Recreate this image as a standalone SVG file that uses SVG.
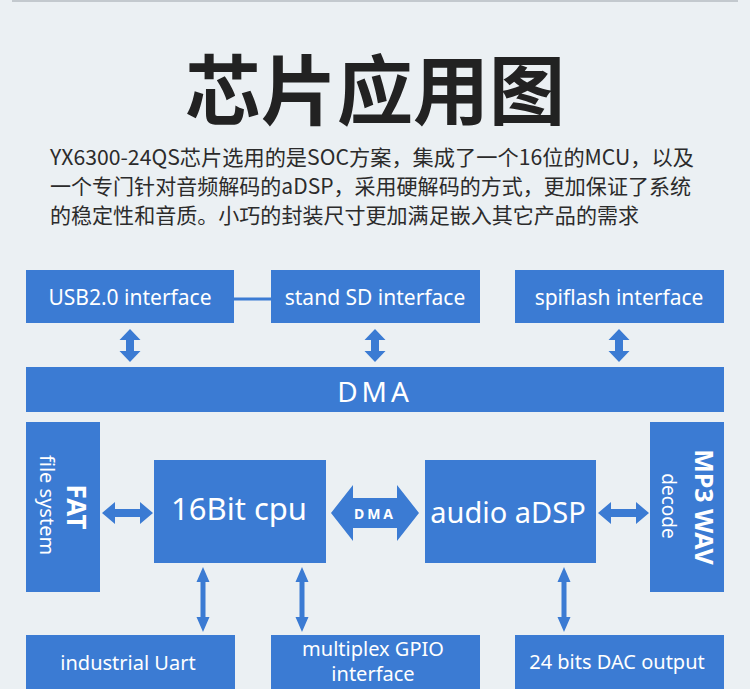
<svg xmlns="http://www.w3.org/2000/svg" width="750" height="689" viewBox="0 0 750 689">
<style>
.box{fill:#3b7bd3}
.lbl{font-family:"Noto Sans","Noto Sans CJK SC",sans-serif;fill:#fff;text-anchor:middle}
.para{font-family:"Noto Sans CJK SC",sans-serif;font-size:21px;fill:#2b2b2b}
.arr{fill:#3b7bd3}
</style>
<rect width="750" height="689" fill="#ebf0f3"/>
<rect x="12" y="0" width="726" height="2" fill="#c3c9ce"/>
<g id="title">
<text x="375" y="119" font-family="'Noto Sans CJK SC',sans-serif" font-size="76" font-weight="700" fill="#222" text-anchor="middle">芯片应用图</text>
</g>
<g id="description">
<text class="para" x="50" y="165" textLength="644" lengthAdjust="spacingAndGlyphs">YX6300-24QS芯片选用的是SOC方案，集成了一个16位的MCU，以及</text>
<text class="para" x="50" y="194" textLength="641" lengthAdjust="spacingAndGlyphs">一个专门针对音频解码的aDSP，采用硬解码的方式，更加保证了系统</text>
<text class="para" x="50" y="223" textLength="589" lengthAdjust="spacingAndGlyphs">的稳定性和音质。小巧的封装尺寸更加满足嵌入其它产品的需求</text>
</g>
<g id="connectors">
<line x1="234" y1="299" x2="271" y2="299" stroke="#3b7bd3" stroke-width="3"/>
<polygon class="arr" points="130,329 140.5,340 134,340 134,351 140.5,351 130,362 119.5,351 126,351 126,340 119.5,340"/>
<polygon class="arr" points="375,329 385.5,340 379,340 379,351 385.5,351 375,362 364.5,351 371,351 371,340 364.5,340"/>
<polygon class="arr" points="619,329 629.5,340 623,340 623,351 629.5,351 619,362 608.5,351 615,351 615,340 608.5,340"/>
<polygon class="arr" points="102,513 115,502 115,509 140,509 140,502 153,513 140,524 140,517 115,517 115,524"/>
<polygon class="arr" points="598,513 611,502 611,509 636,509 636,502 649,513 636,524 636,517 611,517 611,524"/>
<polygon class="arr" points="331,513 353,485 353,498 397,498 397,485 419,513 397,541 397,528 353,528 353,541"/>
<text x="375" y="519" font-family="'Noto Sans',sans-serif" font-size="14" font-weight="700" fill="#fff" text-anchor="middle" letter-spacing="3">DMA</text>
<polygon class="arr" points="203,567 209.5,582 205.5,582 205.5,617 209.5,617 203,632 196.5,617 200.5,617 200.5,582 196.5,582"/>
<polygon class="arr" points="302,567 308.5,582 304.5,582 304.5,617 308.5,617 302,632 295.5,617 299.5,617 299.5,582 295.5,582"/>
<polygon class="arr" points="564,567 570.5,582 566.5,582 566.5,617 570.5,617 564,632 557.5,617 561.5,617 561.5,582 557.5,582"/>
</g>
<g id="usb">
<rect class="box" x="26" y="270" width="208" height="53"/>
<text class="lbl" x="130" y="305" font-size="21">USB2.0 interface</text>
</g>
<g id="sd">
<rect class="box" x="271" y="270" width="209" height="53"/>
<text class="lbl" x="375" y="305" font-size="21">stand SD interface</text>
</g>
<g id="spiflash">
<rect class="box" x="515" y="270" width="209" height="53"/>
<text class="lbl" x="619" y="305" font-size="21">spiflash interface</text>
</g>
<g id="dma">
<rect class="box" x="26" y="367" width="698" height="45"/>
<text class="lbl" x="375" y="402" font-size="28" letter-spacing="4">DMA</text>
</g>
<g id="fat">
<rect class="box" x="26" y="422" width="74" height="170"/>
<text class="lbl" font-size="26" font-weight="700" transform="translate(67,507) rotate(90)">FAT</text>
<text class="lbl" font-size="20" transform="translate(40,505) rotate(90)">file system</text>
</g>
<g id="cpu">
<rect class="box" x="154" y="460" width="172" height="103"/>
<text class="lbl" x="239" y="520" font-size="31">16Bit cpu</text>
</g>
<g id="adsp">
<rect class="box" x="425" y="460" width="171" height="103"/>
<text class="lbl" x="508" y="523" font-size="29">audio aDSP</text>
</g>
<g id="mp3">
<rect class="box" x="650" y="422" width="74" height="170"/>
<text class="lbl" font-size="25" font-weight="700" transform="translate(695,507) rotate(90)">MP3 WAV</text>
<text class="lbl" font-size="19" transform="translate(662,506) rotate(90)">decode</text>
</g>
<g id="uart">
<rect class="box" x="26" y="635" width="209" height="54"/>
<text class="lbl" x="128" y="670" font-size="20">industrial Uart</text>
</g>
<g id="gpio">
<rect class="box" x="271" y="635" width="209" height="54"/>
<text class="lbl" x="373" y="656" font-size="20">multiplex GPIO</text>
<text class="lbl" x="373" y="681" font-size="20">interface</text>
</g>
<g id="dac">
<rect class="box" x="515" y="635" width="209" height="54"/>
<text class="lbl" x="617" y="669" font-size="20">24 bits DAC output</text>
</g>
</svg>
